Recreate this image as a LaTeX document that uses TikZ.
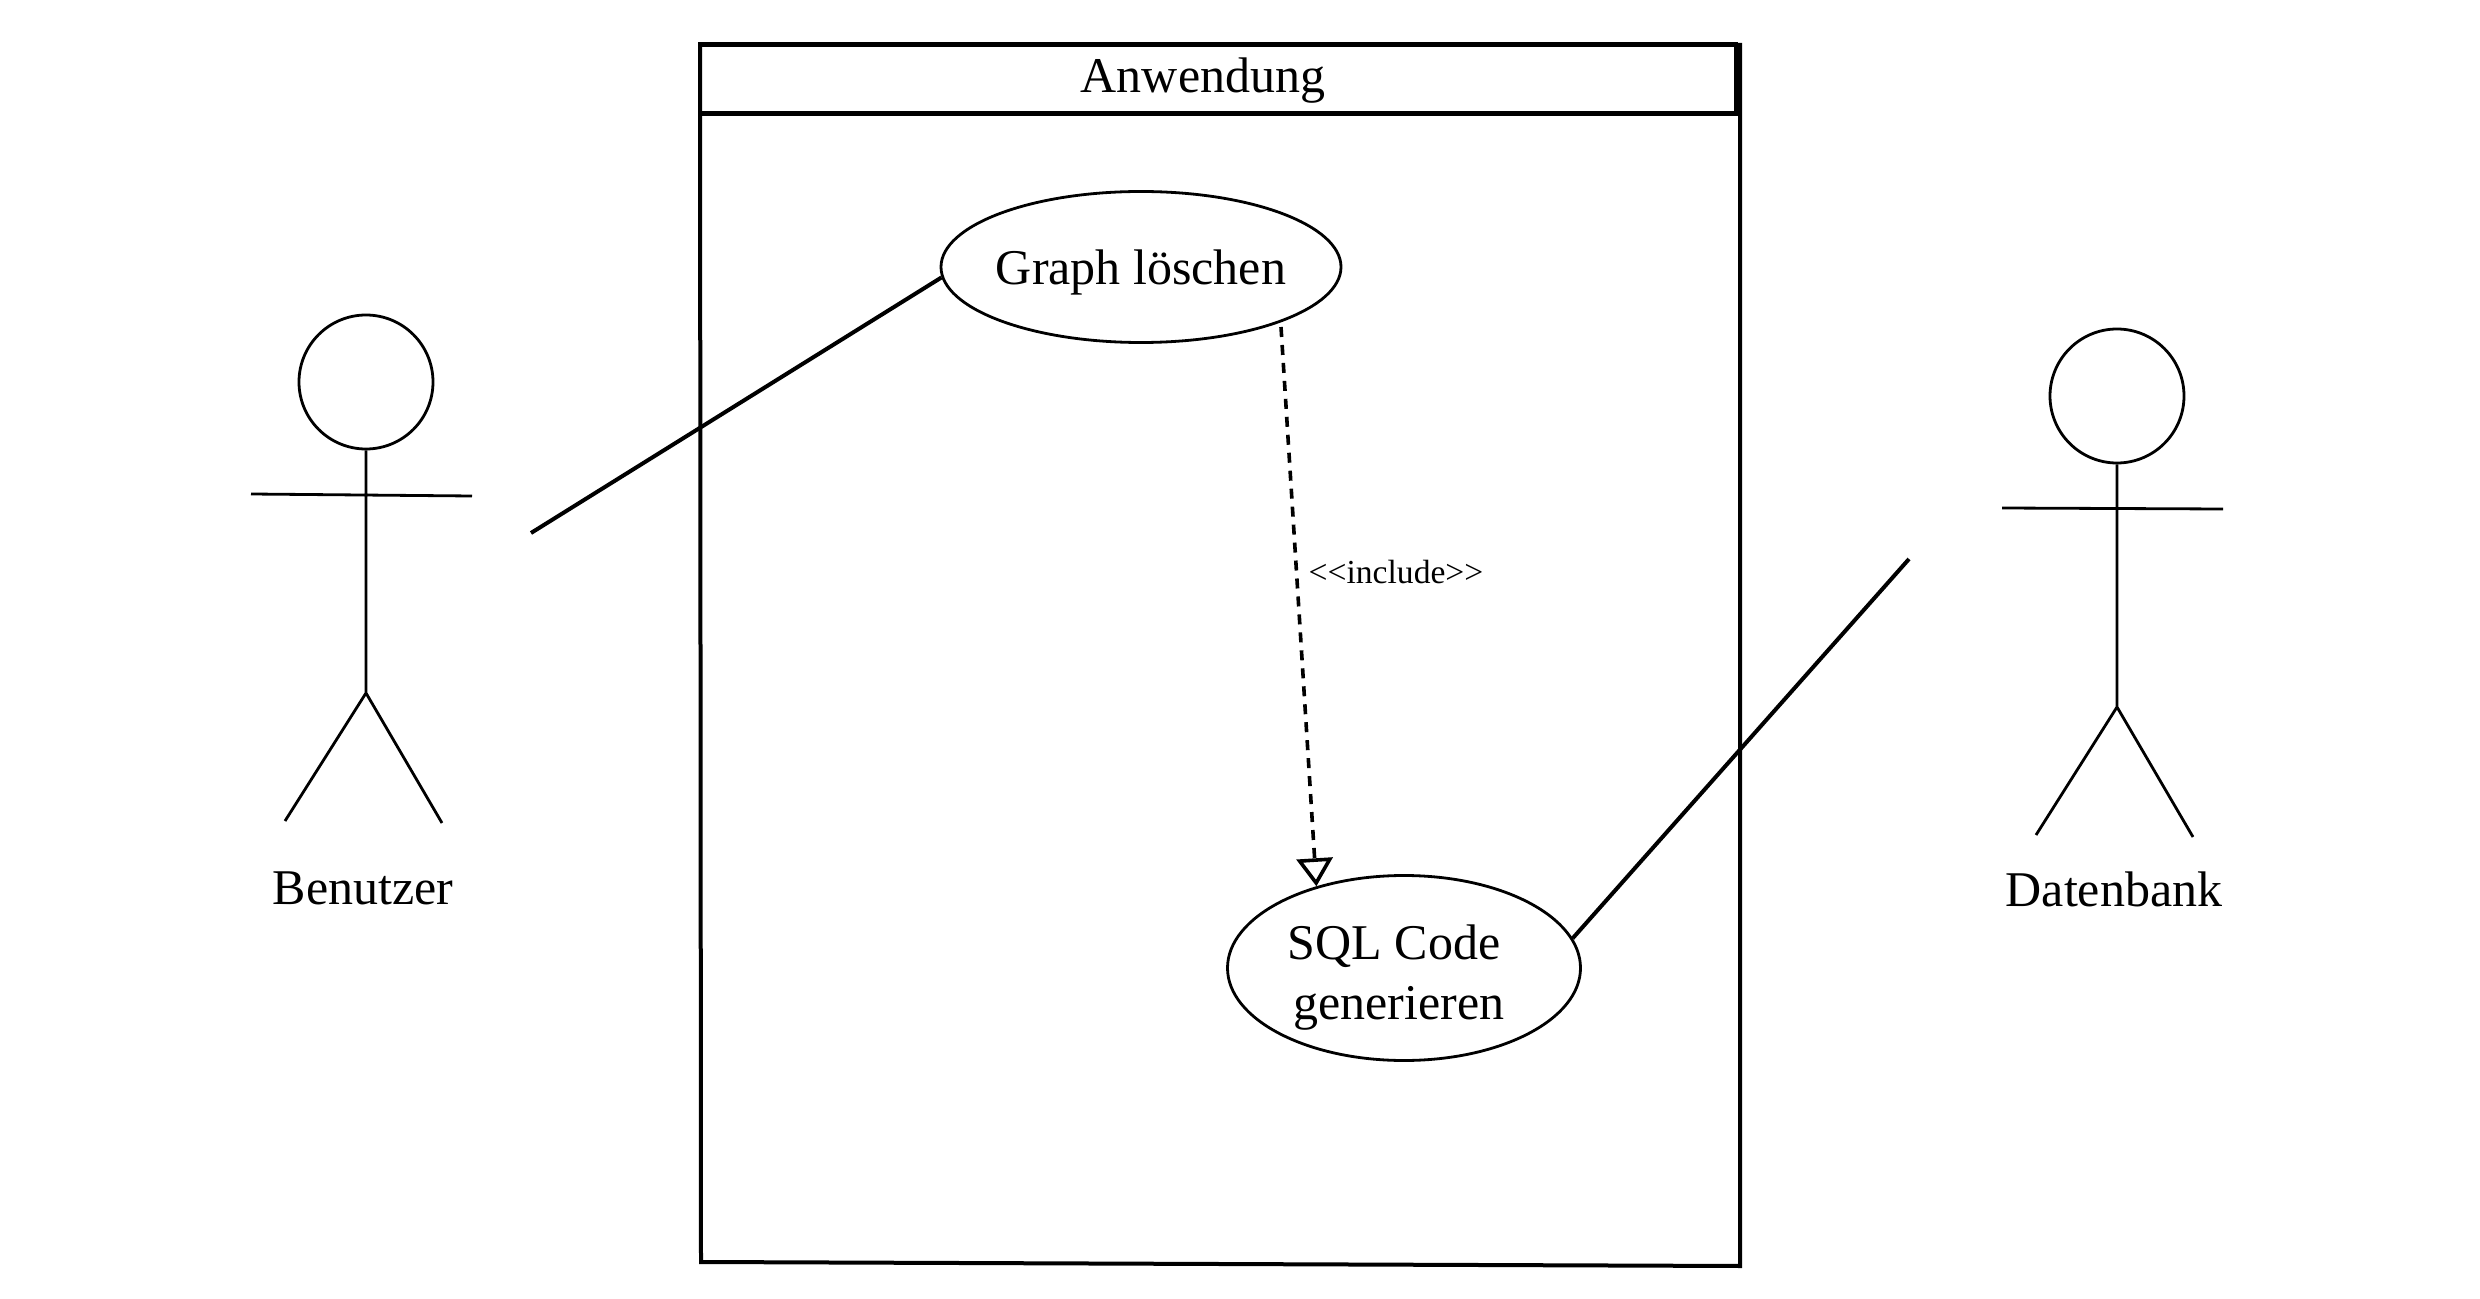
\documentclass[tikz,border=0pt]{standalone}
\usepackage{fontspec}
\setmainfont{Liberation Serif}
\usetikzlibrary{arrows.meta,shapes.geometric}
\tikzset{
  usecase/.style={draw,shape=ellipse,inner sep=0pt,line width=1.4pt,font=\fontsize{25}{30}\selectfont,align=center},
  head/.style={draw,shape=circle,inner sep=0pt,minimum size=67pt,line width=1.4pt},
  limb/.style={line width=1.4pt},
  assoc/.style={line width=2pt},
  frame/.style={line width=2pt},
  actorname/.style={anchor=base,font=\fontsize{25}{30}\selectfont}
}
\begin{document}
\begin{tikzpicture}[x=0.5pt,y=-0.5pt]
    \useasboundingbox (0,0) rectangle (2480,1299);

    % system frame
    \coordinate (tl) at (700,45);
    \coordinate (tr) at (1740,45);
    \coordinate (bl) at (701,1262);
    \coordinate (br) at (1740,1266);
    \draw[frame] (tl)--(bl)--(br)--(tr)--cycle;
    \node[draw,line width=2.4pt,minimum width=518pt,minimum height=34.5pt,inner sep=0pt,
      text height=19pt,text depth=5.4pt,font=\fontsize{25}{30}\selectfont] (title) at (1218,79) {Anwendung\kern15pt};

    % use cases
    \node[usecase,minimum width=200pt,minimum height=75.5pt,text height=23.4pt,text depth=5.4pt] (graph) at (1141,267) {\makebox[0pt]{Graph löschen}};
    \node[usecase,minimum width=176.5pt,minimum height=92.5pt] (sql) at (1404,968) {\rule{0pt}{27pt}SQL Code\kern10pt\\generieren\kern5pt};

    % left actor
    \node[head] (bhead) at (366,382) {};
    \coordinate (bhip) at (366,693);
    \coordinate (barml) at (251,494);
    \coordinate (barmr) at (472,496);
    \coordinate (blegl) at (285,821);
    \coordinate (blegr) at (442,823);
    \draw[limb] (bhead.south)--(bhip)
    (barml)--(barmr)
    (blegl)--(bhip)--(blegr);
    \node[actorname] (benutzer) at (363,904) {Benutzer};

    % right actor
    \node[head] (dhead) at (2117,396) {};
    \coordinate (dhip) at (2117,707);
    \coordinate (darml) at (2002,508);
    \coordinate (darmr) at (2223,509);
    \coordinate (dlegl) at (2036,835);
    \coordinate (dlegr) at (2193,837);
    \draw[limb] (dhead.south)--(dhip)
    (darml)--(darmr)
    (dlegl)--(dhip)--(dlegr);
    \node[actorname] (datenbank) at (2114,906) {Datenbank};

    % connectors
    \coordinate (bfree) at (531,533);
    \coordinate (dfree) at (1909,559);
    \coordinate (igraph) at (1281,327);
    \draw[assoc] (bfree)--(graph.183);
    \draw[assoc] (dfree)--(sql.10.5);
    \draw[line width=1.8pt,dash pattern=on 5pt off 4pt,-{Triangle[open,length=14pt,width=18pt]}] (igraph)--(sql.137);
    \node[anchor=base,font=\fontsize{16.8}{20}\selectfont] (include) at (1396,583) {<{}<{}include>{}>};
  \end{tikzpicture}
\end{document}
